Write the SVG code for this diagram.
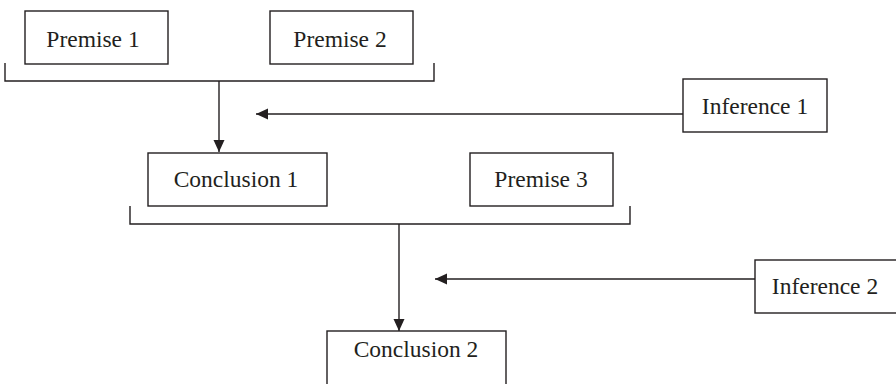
<svg xmlns="http://www.w3.org/2000/svg" width="896" height="384" viewBox="0 0 896 384">
<style>
.box{fill:#fff;stroke:#231f20;stroke-width:1.4}
.lbl{font-family:"Liberation Serif","Times New Roman",serif;font-size:23.5px;fill:#231f20;text-anchor:middle}
.ln{fill:none;stroke:#231f20;stroke-width:1.4}
</style>
<defs>
<marker id="ah" viewBox="0 0 12 12" refX="12" refY="6" markerWidth="12" markerHeight="12" markerUnits="userSpaceOnUse" orient="auto">
<path d="M0,0.5 L12,6 L0,11.5 Z" fill="#231f20"/>
</marker>
</defs>
<rect width="896" height="384" fill="#fff"/>
<g id="connectors">
<path class="ln" d="M5,63 V81 H434 V63"/>
<path class="ln" d="M219,81 V152" marker-end="url(#ah)"/>
<path class="ln" d="M683,114 H256" marker-end="url(#ah)"/>
<path class="ln" d="M130,206 V224 H630 V206"/>
<path class="ln" d="M399,224 V331" marker-end="url(#ah)"/>
<path class="ln" d="M755,279 H435" marker-end="url(#ah)"/>
</g>
<g id="premise1"><rect class="box" x="25" y="11" width="143" height="53"/><text class="lbl" x="93" y="47">Premise 1</text></g>
<g id="premise2"><rect class="box" x="270" y="11" width="143" height="53"/><text class="lbl" x="340" y="47">Premise 2</text></g>
<g id="inference1"><rect class="box" x="683" y="79" width="144" height="53"/><text class="lbl" x="755" y="114">Inference 1</text></g>
<g id="conclusion1"><rect class="box" x="148" y="153" width="179" height="53"/><text class="lbl" x="236" y="187">Conclusion 1</text></g>
<g id="premise3"><rect class="box" x="470" y="153" width="143" height="53"/><text class="lbl" x="541" y="187">Premise 3</text></g>
<g id="inference2"><rect class="box" x="755" y="260" width="150" height="53"/><text class="lbl" x="825" y="294">Inference 2</text></g>
<g id="conclusion2"><rect class="box" x="327" y="331" width="179" height="60"/><text class="lbl" x="416" y="357">Conclusion 2</text></g>
</svg>
